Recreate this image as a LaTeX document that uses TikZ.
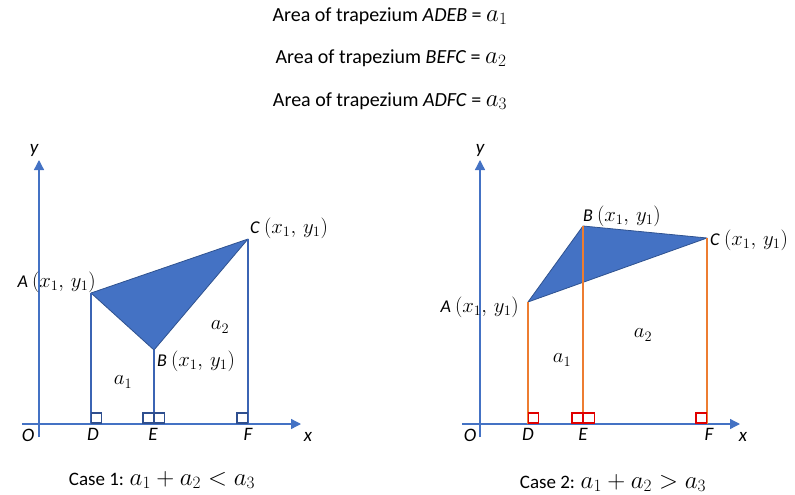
\documentclass[tikz,border=0pt]{standalone}
\usepackage{fontspec}
\setmainfont{Carlito}
\usetikzlibrary{arrows.meta}
\definecolor{offblue}{HTML}{4472C4}
\definecolor{edgeblue}{HTML}{2F528F}
\definecolor{vblue}{HTML}{3B64B4}
\definecolor{sqblue}{HTML}{2F4F8F}
\definecolor{offorange}{HTML}{ED7D31}
\definecolor{sqred}{HTML}{E00000}
\tikzset{
  axis/.style={draw=offblue,line width=1.3pt,-{Triangle[length=10pt,width=10pt]}},
  tri/.style={fill=offblue,draw=edgeblue,line width=0.8pt,line join=round},
  vline/.style={draw=vblue,line width=1.5pt},
  oline/.style={draw=offorange,line width=1.4pt},
  bsq/.style={draw=sqblue,line width=1.4pt},
  rsq/.style={draw=sqred,line width=1.6pt},
  ptlabel/.style={inner sep=0pt,font=\fontsize{18}{20}\selectfont},
  axlabel/.style={inner sep=0pt,font=\fontsize{19}{21}\selectfont\itshape},
  alabel/.style={inner sep=0pt,font=\fontsize{22}{24}\selectfont},
  toptext/.style={inner sep=0pt,font=\fontsize{20}{23}\selectfont},
  caption/.style={inner sep=0pt,font=\fontsize{19}{22}\selectfont},
}
\newcommand{\pxy}{{\fontsize{21}{23}\selectfont$(x_1,\,y_1)$}}
\newcommand{\capmath}[1]{{\fontsize{23}{26}\selectfont$#1$}}
\begin{document}
\begin{tikzpicture}[x=1pt,y=-1pt]
\useasboundingbox (0,0) rectangle (795,495);
% top text
\node[toptext] (t1) at (390,16) {Area of trapezium \textit{ADEB} = \capmath{a_1}};
\node[toptext] (t2) at (391,58) {Area of trapezium \textit{BEFC} = \capmath{a_2}};
\node[toptext] (t3) at (390,101) {Area of trapezium \textit{ADFC} = \capmath{a_3}};

% ===== Case 1 =====
\coordinate (yb1) at (39,437);
\coordinate (yt1) at (39,160);
\coordinate (xl1) at (22,424);
\coordinate (xr1) at (301,424);
\coordinate (A1) at (91,293);
\coordinate (B1) at (154,350);
\coordinate (C1) at (248,239);
\coordinate (D1) at (91,424);
\coordinate (E1) at (154,424);
\coordinate (F1) at (248,424);
\draw[axis] (yb1) -- (yt1);
\draw[axis] (xl1) -- (xr1);
\draw[tri] (A1) -- (B1) -- (C1) -- cycle;
\draw[vline] (A1) -- (D1);
\draw[vline] (B1) -- (E1);
\draw[vline] (C1) -- (F1);
\draw[bsq] (91.5,413) rectangle (101.5,423);
\draw[bsq] (143,413) rectangle (153.5,423);
\draw[bsq] (154.5,413) rectangle (164.5,423);
\draw[bsq] (237,413) rectangle (247.5,423);
\node[ptlabel,anchor=east] (lA1) at (96,282) {\textit{A} \pxy};
\node[ptlabel,anchor=west] (lC1) at (250,228) {\textit{C} \pxy};
\node[ptlabel,anchor=west] (lB1) at (157,361) {\textit{B} \pxy};
\node[alabel] (a11) at (123,382) {$a_1$};
\node[alabel] (a21) at (220,327) {$a_2$};
\node[axlabel] (ly1) at (34,150) {y};
\node[axlabel] (lO1) at (28,435) {O};
\node[axlabel] (lD1) at (93,434) {D};
\node[axlabel] (lE1) at (153,434) {E};
\node[axlabel] (lF1) at (248,434) {F};
\node[axlabel] (lx1) at (308,437) {x};
\node[caption] (c1) at (162,480) {Case 1: \capmath{a_1+a_2<a_3}};

% ===== Case 2 =====
\coordinate (yb2) at (480,437);
\coordinate (yt2) at (480,160);
\coordinate (xl2) at (462,424);
\coordinate (xr2) at (740,424);
\coordinate (A2) at (528,302);
\coordinate (B2) at (583,226);
\coordinate (C2) at (707,238);
\coordinate (D2) at (528,424);
\coordinate (E2) at (583,424);
\coordinate (F2) at (707,424);
\draw[axis] (yb2) -- (yt2);
\draw[axis] (xl2) -- (xr2);
\draw[tri] (A2) -- (B2) -- (C2) -- cycle;
\draw[oline] (A2) -- (D2);
\draw[oline] (B2) -- (E2);
\draw[oline] (C2) -- (F2);
\draw[rsq] (528.5,413) rectangle (538.5,423);
\draw[rsq] (572,413) rectangle (582.5,423);
\draw[rsq] (583.5,413) rectangle (594.5,423);
\draw[rsq] (696,413) rectangle (706.5,423);
\node[ptlabel,anchor=east] (lA2) at (519,307) {\textit{A} \pxy};
\node[ptlabel] (lB2) at (622,216) {\textit{B} \pxy};
\node[ptlabel,anchor=west] (lC2) at (710,240) {\textit{C} \pxy};
\node[alabel] (a12) at (562,360) {$a_1$};
\node[alabel] (a22) at (643,335) {$a_2$};
\node[axlabel] (ly2) at (480,150) {y};
\node[axlabel] (lO2) at (470,435) {O};
\node[axlabel] (lD2) at (528,434) {D};
\node[axlabel] (lE2) at (583,434) {E};
\node[axlabel] (lF2) at (709,434) {F};
\node[axlabel] (lx2) at (743,437) {x};
\node[caption] (c2) at (613,483) {Case 2: \capmath{a_1+a_2>a_3}};
\end{tikzpicture}
\end{document}
